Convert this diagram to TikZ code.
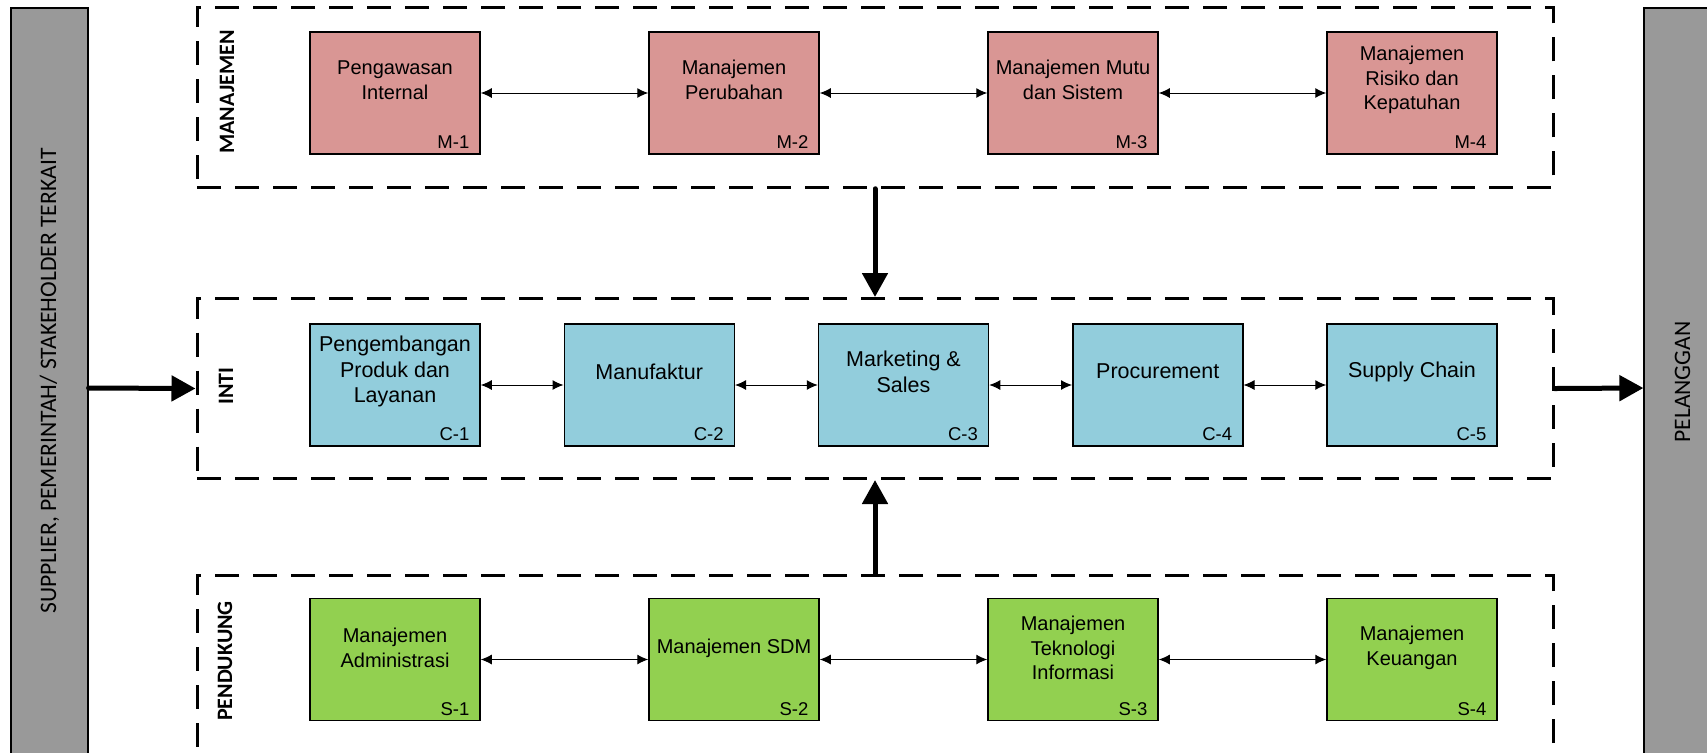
\documentclass[tikz,border=0pt]{standalone}
\usepackage{fontspec}
\setmainfont{Liberation Sans}
\newfontfamily\sidefont{Carlito}
\usetikzlibrary{arrows.meta}

\begin{document}
\begin{tikzpicture}[
    line join=miter,
    x=0.5pt,
    y=-0.5pt
]

% =========================================================
% Colors
% =========================================================
\definecolor{mgtfill}{RGB}{217,150,148}
\definecolor{corefill}{RGB}{146,205,220}
\definecolor{supfill}{RGB}{146,208,80}
\definecolor{sidefill}{RGB}{153,153,153}

% =========================================================
% Styles
% =========================================================
\tikzset{
    unitbox/.style={draw=black,line width=0.75pt,minimum width=85pt,
        minimum height=61pt,inner sep=0pt},
    mgtbox/.style={unitbox,fill=mgtfill},
    corebox/.style={unitbox,fill=corefill},
    supbox/.style={unitbox,fill=supfill},
    boxtext/.style={align=center,inner sep=0pt,
        font=\fontsize{10}{12.25}\selectfont},
    coretext/.style={boxtext,font=\fontsize{10.75}{12.9}\selectfont},
    boxtag/.style={anchor=base east,inner sep=0pt,
        font=\fontsize{9.25}{10}\selectfont},
    area/.style={draw=black,line width=1.5pt,dash pattern=on 12pt off 7pt,
        minimum width=678pt,minimum height=90pt,inner sep=0pt},
    arealabel/.style={rotate=90,inner sep=0pt,
        font=\sidefont\bfseries\fontsize{11}{13}\selectfont},
    sidebar/.style={draw=black,line width=0.6pt,fill=sidefill,
        minimum width=38.5pt,minimum height=380pt,inner sep=0pt},
    sidetext/.style={rotate=90,inner sep=0pt,
        font=\sidefont\fontsize{11.8}{13}\selectfont},
    link/.style={{Latex[length=5.5pt,width=5pt]}-{Latex[length=5.5pt,width=5pt]},
        line width=0.5pt},
    flow/.style={-{Triangle[length=12pt,width=12.5pt]},line width=2.5pt,
        line cap=round}
}

\useasboundingbox (0,0) rectangle (1707,752);

% =========================================================
% Side bars
% =========================================================
\node[sidebar] (supp) at (49.5,388) {};
\node[sidetext] at (49.5,381) {SUPPLIER, PEMERINTAH/ STAKEHOLDER TERKAIT};
\node[sidebar] (cust) at (1682.5,388) {};
\node[sidetext] at (1682.5,382) {PELANGGAN};

% =========================================================
% Dashed areas
% =========================================================
\node[area] (mgt)  at (875,97.25) {};
\node[area] (core) at (875,388.5) {};
\node[area] (sup)  at (875,665) {};

\node[arealabel] at (227,92)  {MANAJEMEN};
\node[arealabel] at (226,386) {INTI};
\node[arealabel] at (225,661) {PENDUKUNG};

% =========================================================
% Manajemen row
% =========================================================
\node[mgtbox] (m1) at (395,93)  {};
\node[mgtbox] (m2) at (734,93)  {};
\node[mgtbox] (m3) at (1073,93) {};
\node[mgtbox] (m4) at (1412,93) {};

\node[boxtext] at ([yshift=6.5pt]m1.center) {Pengawasan\\Internal};
\node[boxtext] at ([yshift=6.5pt]m2.center) {Manajemen\\Perubahan};
\node[boxtext] at ([yshift=6.5pt]m3.center) {Manajemen Mutu\\dan Sistem};
\node[boxtext] at ([yshift=6.5pt]m4.center) {Manajemen\\Risiko dan\\Kepatuhan};

\node[boxtag] at ([xshift=-5.5pt,yshift=3pt]m1.south east) {M-1};
\node[boxtag] at ([xshift=-5.5pt,yshift=3pt]m2.south east) {M-2};
\node[boxtag] at ([xshift=-5.5pt,yshift=3pt]m3.south east) {M-3};
\node[boxtag] at ([xshift=-5.5pt,yshift=3pt]m4.south east) {M-4};

\draw[link] (m1) -- (m2);
\draw[link] (m2) -- (m3);
\draw[link] (m3) -- (m4);

% =========================================================
% Inti row
% =========================================================
\node[corebox] (c1) at (395,385)    {};
\node[corebox] (c2) at (649.25,385) {};
\node[corebox] (c3) at (903.5,385)  {};
\node[corebox] (c4) at (1157.75,385) {};
\node[corebox] (c5) at (1412,385)   {};

\node[coretext] at ([yshift=6.75pt]c1.center) {Pengembangan\\Produk dan\\Layanan};
\node[coretext] at ([yshift=6.75pt]c2.center) {Manufaktur};
\node[coretext] at ([yshift=6.75pt]c3.center) {Marketing \&\\Sales};
\node[coretext] at ([yshift=6.75pt]c4.center) {Procurement};
\node[coretext] at ([yshift=6.75pt]c5.center) {Supply Chain};

\node[boxtag] at ([xshift=-5.5pt,yshift=3pt]c1.south east) {C-1};
\node[boxtag] at ([xshift=-5.5pt,yshift=3pt]c2.south east) {C-2};
\node[boxtag] at ([xshift=-5.5pt,yshift=3pt]c3.south east) {C-3};
\node[boxtag] at ([xshift=-5.5pt,yshift=3pt]c4.south east) {C-4};
\node[boxtag] at ([xshift=-5.5pt,yshift=3pt]c5.south east) {C-5};

\draw[link] (c1) -- (c2);
\draw[link] (c2) -- (c3);
\draw[link] (c3) -- (c4);
\draw[link] (c4) -- (c5);

% =========================================================
% Pendukung row
% =========================================================
\node[supbox] (s1) at (395,659.5)  {};
\node[supbox] (s2) at (734,659.5)  {};
\node[supbox] (s3) at (1073,659.5) {};
\node[supbox] (s4) at (1412,659.5) {};

\node[boxtext] at ([yshift=5.75pt]s1.center) {Manajemen\\Administrasi};
\node[boxtext] at ([yshift=5.75pt]s2.center) {Manajemen SDM};
\node[boxtext] at ([yshift=5.75pt]s3.center) {Manajemen\\Teknologi\\Informasi};
\node[boxtext] at ([yshift=5.75pt]s4.center) {Manajemen\\Keuangan};

\node[boxtag] at ([xshift=-5.5pt,yshift=3pt]s1.south east) {S-1};
\node[boxtag] at ([xshift=-5.5pt,yshift=3pt]s2.south east) {S-2};
\node[boxtag] at ([xshift=-5.5pt,yshift=3pt]s3.south east) {S-3};
\node[boxtag] at ([xshift=-5.5pt,yshift=3pt]s4.south east) {S-4};

\draw[link] (s1) -- (s2);
\draw[link] (s2) -- (s3);
\draw[link] (s3) -- (s4);

% =========================================================
% Main flows
% =========================================================
\draw[flow] (supp.east) -- (core.west);
\draw[flow] (core.east) -- (cust.west);
\draw[flow] (mgt.south) -- (core.north);
\draw[flow] (sup.north) -- (core.south);

\end{tikzpicture}
\end{document}
